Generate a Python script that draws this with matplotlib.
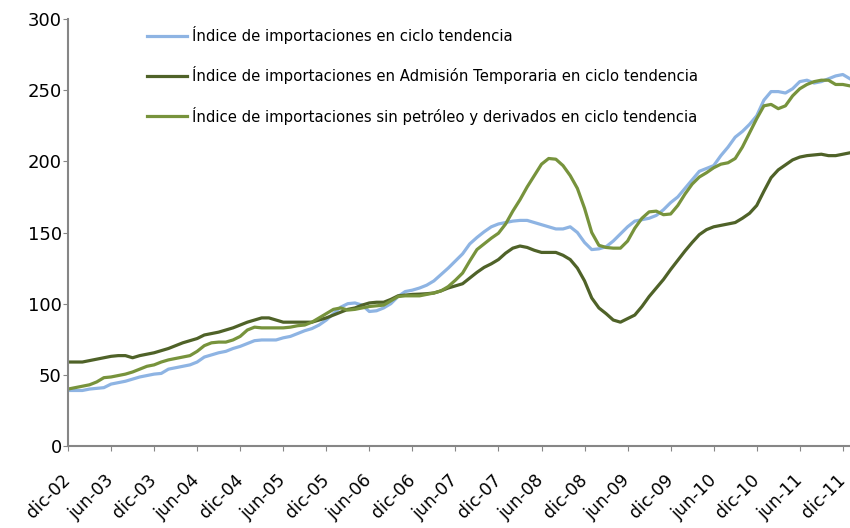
import matplotlib
matplotlib.use("Agg")
import matplotlib.pyplot as plt
from matplotlib.transforms import ScaledTranslation

# meses: dic-02 ... ene-12 (ciclo tendencia)
meses = list(range(110))
tick_labels = ["dic-02", "jun-03", "dic-03", "jun-04", "dic-04", "jun-05", "dic-05",
               "jun-06", "dic-06", "jun-07", "dic-07", "jun-08", "dic-08", "jun-09",
               "dic-09", "jun-10", "dic-10", "jun-11", "dic-11"]

importaciones = [
    39, 39, 39, 40, 40.5, 41, 43.5, 44.5, 45.5, 47,
    48.5, 49.5, 50.5, 51, 54, 55, 56, 57, 59, 62.5,
    64, 65.5, 66.5, 68.5, 70, 72, 74, 74.5, 74.5, 74.5,
    76, 77, 79, 81, 82.5, 85, 88.5, 93, 97.5, 100,
    100.5, 99, 94.5, 95, 97, 100, 105, 108.5, 109.5, 111,
    113, 116, 120.5, 125, 130, 135, 142, 146.5, 150.5, 154,
    156, 157, 158, 158.5, 158.5, 157, 155.5, 154, 152.5, 152.5,
    154, 150, 143, 138, 138.5, 140, 144, 149, 154, 158,
    159, 160, 162, 166, 171, 175, 181, 187, 193, 195,
    197, 204, 210, 217, 221, 226, 232, 243, 249, 249,
    248, 251, 256, 257, 255, 256, 258, 260, 261, 258]

admision_temporaria = [
    59, 59, 59, 60, 61, 62, 63, 63.5, 63.5, 62,
    63.5, 64.5, 65.5, 67, 68.5, 70.5, 72.5, 74, 75.5, 78,
    79, 80, 81.5, 83, 85, 87, 88.5, 90, 90, 88.5,
    87, 87, 87, 87, 87, 88.5, 90, 92, 94, 96,
    97, 99, 100.5, 101, 101, 103, 105.5, 106, 106.5, 106.7,
    107, 107.5, 109, 111, 112.5, 114, 118, 122, 125.5, 128,
    131, 135.5, 139, 140.5, 139.5, 137.5, 136, 136, 136, 134,
    131, 125, 116, 104, 97, 93, 88.5, 87, 89.5, 92,
    98, 105, 111, 117, 124, 130.5, 137, 143, 148.5, 152,
    154, 155, 156, 157, 160, 163.5, 169, 179, 188.5, 194,
    197.5, 201, 203, 204, 204.5, 205, 204, 204, 205, 206]

sin_petroleo = [
    40, 41, 42, 43, 45, 48, 48.5, 49.5, 50.5, 52,
    54, 56, 57, 59, 60.5, 61.5, 62.5, 63.5, 66.5, 70.5,
    72.5, 73, 73, 74.5, 77, 81.5, 83.5, 83, 83, 83,
    83, 83.5, 84.5, 85, 87, 90, 93, 96, 97, 95.5,
    96, 97, 98, 98.5, 99, 102, 105, 105.5, 105.5, 105.5,
    106.5, 107.5, 109, 112, 116.5, 121.5, 130, 138, 142, 146,
    149.5, 156, 165, 173, 182, 190, 198, 202, 201.5, 197,
    190, 181, 167, 150, 141, 139.5, 139, 139, 144, 153,
    160, 164.5, 165, 162.5, 163, 169, 177, 184, 189, 192,
    195.5, 198, 199, 202, 210, 220, 230, 239, 240, 237,
    239, 246, 251, 254, 256, 257, 257, 254, 254, 253]

plt.rcParams["font.family"] = ["DejaVu Sans"]

fig = plt.figure(figsize=(8.5, 5.28), dpi=100)
ax = fig.add_axes([68 / 850, 82 / 528, 1 - 68 / 850, 427 / 528])

ax.plot(meses, importaciones, color="#8EB4E3", lw=2.3,
        label="Índice de importaciones en ciclo tendencia")
ax.plot(meses, admision_temporaria, color="#4F6228", lw=2.3,
        label="Índice de importaciones en Admisión Temporaria en ciclo tendencia")
ax.plot(meses, sin_petroleo, color="#77933C", lw=2.3,
        label="Índice de importaciones sin petróleo y derivados en ciclo tendencia")

ax.set_xlim(0, 109)
ax.set_ylim(0, 300)
ax.set_yticks(range(0, 301, 50))
ax.set_xticks(range(0, 109, 6))
ax.set_xticklabels(tick_labels, rotation=45, ha="right", va="center",
                   rotation_mode="anchor", fontsize=12.5)
shift = ScaledTranslation(4 / 72, 0, fig.dpi_scale_trans)
for lab in ax.get_xticklabels():
    lab.set_transform(lab.get_transform() + shift)
ax.tick_params(axis="y", labelsize=13, length=3.5, color="#868686", pad=1)
ax.tick_params(axis="x", length=3.5, color="#868686", pad=19)

for s in ["top", "right"]:
    ax.spines[s].set_visible(False)
for s in ["left", "bottom"]:
    ax.spines[s].set_color("#868686")
    ax.spines[s].set_linewidth(1.5)

ax.legend(loc="upper left", bbox_to_anchor=(147 / 850, 502 / 528),
          bbox_transform=fig.transFigure, frameon=False, fontsize=10.7,
          handlelength=2.7, handletextpad=0.3, labelspacing=1.5,
          borderpad=0, borderaxespad=0)

fig.savefig("out.png", dpi=100)
